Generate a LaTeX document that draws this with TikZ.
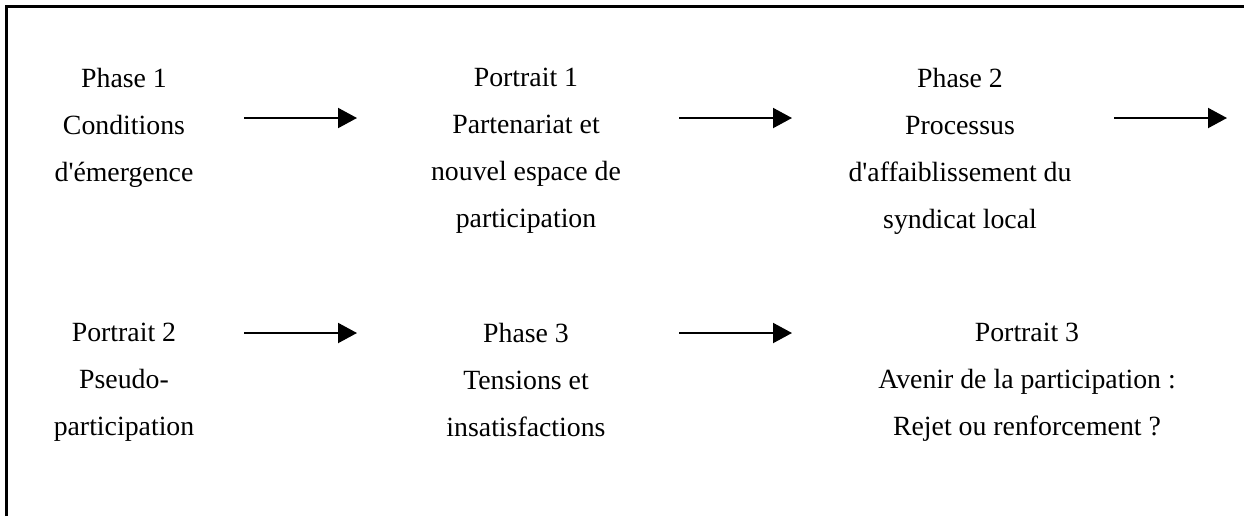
\documentclass[tikz,border=0pt]{standalone}
\usepackage{fontspec}
\setmainfont{Liberation Serif}
\usetikzlibrary{arrows.meta, positioning}

\begin{document}
\begin{tikzpicture}[x=0.5pt, y=-0.5pt,
    stage/.style={align=center, anchor=north, inner sep=0pt,
        font=\fontsize{13.9}{23.5}\selectfont},
    flow/.style={-{Triangle[length=9.5pt, width=10pt]}, line width=1pt}]
    \useasboundingbox (0,0) rectangle (1244,516);
    \draw[line width=1.5pt] (6,516) -- (6,6) -- (1244,6);

    % first row
    \node[stage] (ph1) at (124,68) {Phase 1\\Conditions\\d\textquotesingle émergence};
    \node[stage] (por1) at (526,68) {Portrait 1\\Partenariat et\\nouvel espace de\\participation};
    \node[stage] (ph2) at (960,68) {Phase 2\\Processus\\d\textquotesingle affaiblissement du\\syndicat local};

    % second row
    \node[stage] (por2) at (124,323) {Portrait 2\\Pseudo-\\participation};
    \node[stage] (ph3) at (526,323) {Phase 3\\Tensions et\\insatisfactions};
    \node[stage] (por3) at (1027,323) {Portrait 3\\Avenir de la participation :\\Rejet ou renforcement ?};

    % arrow ends
    \coordinate (a1s) at (244,118);  \coordinate (a1e) at (357,118);
    \coordinate (a2s) at (679,118);  \coordinate (a2e) at (792,118);
    \coordinate (a3s) at (1114,118); \coordinate (a3e) at (1227,118);
    \coordinate (b1s) at (244,333);  \coordinate (b1e) at (357,333);
    \coordinate (b2s) at (679,333);  \coordinate (b2e) at (792,333);

    \draw[flow] (a1s) -- (a1e);
    \draw[flow] (a2s) -- (a2e);
    \draw[flow] (a3s) -- (a3e);
    \draw[flow] (b1s) -- (b1e);
    \draw[flow] (b2s) -- (b2e);
\end{tikzpicture}
\end{document}
